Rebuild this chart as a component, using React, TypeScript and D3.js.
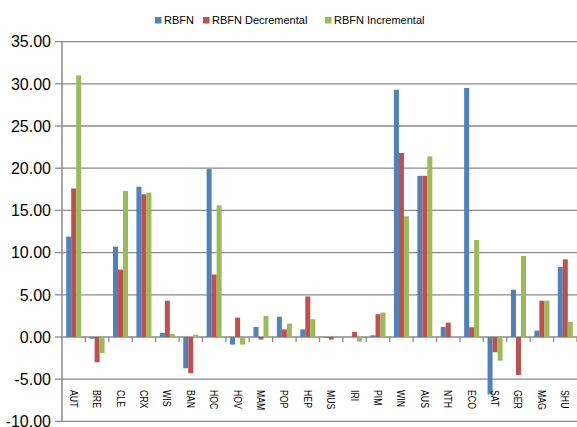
import React from "react";
import * as d3 from "d3";

const categories = ["AUT","BRE","CLE","CRX","WIS","BAN","HOC","HOV","MAM","POP","HEP","MUS","IRI","PIM","WIN","AUS","NTH","ECO","SAT","GER","MAG","SHU"];
const seriesNames = ["RBFN", "RBFN Decremental", "RBFN Incremental"];
const rbfn = [11.9,-0.2,10.7,17.8,0.5,-3.7,19.9,-0.9,1.2,2.4,0.9,-0.1,0.0,0.2,29.3,19.1,1.2,29.5,-6.8,5.6,0.75,8.3];
const rbfnDec = [17.6,-3.0,8.0,16.9,4.3,-4.3,7.4,2.3,-0.3,0.9,4.8,-0.3,0.6,2.7,21.8,19.1,1.7,1.15,-1.8,-4.5,4.3,9.2];
const rbfnInc = [31.0,-1.9,17.3,17.1,0.35,0.27,15.6,-0.9,2.5,1.6,2.1,-0.1,-0.55,2.9,14.3,21.4,-0.1,11.5,-2.8,9.6,4.3,1.8];
const yTicks = [35,30,25,20,15,10,5,0,-5,-10];
const colors = ["#4F81BD", "#C0504D", "#9BBB59"];

export default function App() {
  const W = 577, H = 427;
  const left = 62, right = 577, top = 41.6, bottom = 421.4;
  const y = d3.scaleLinear().domain([-10, 35]).range([bottom, top]);
  const x0 = d3.scaleBand<string>().domain(categories).range([left, right]);
  const bw = x0.bandwidth();
  const x1 = d3.scaleBand<string>().domain(seriesNames).range([4.2, bw - 4.2]);
  const data = [rbfn, rbfnDec, rbfnInc];
  const grid = "#8a8a8a";
  const font = "Liberation Sans, Arial, Helvetica, sans-serif";
  const legendItems = [
    { x: 155, label: seriesNames[0] },
    { x: 203, label: seriesNames[1] },
    { x: 325, label: seriesNames[2] },
  ];
  return (
    <svg width={W} height={H} style={{ position: "absolute", left: 0, top: 0, background: "#fff" }} fontFamily={font}>
      {yTicks.map((t) => (
        <line key={"g" + t} x1={left} x2={right} y1={y(t)} y2={y(t)} stroke={grid} strokeWidth={1.3} />
      ))}
      {yTicks.map((t) => (
        <g key={"t" + t}>
          <line x1={55} x2={left} y1={y(t)} y2={y(t)} stroke={grid} strokeWidth={1.3} />
          <text x={51} y={y(t)} dy="0.36em" textAnchor="end" fontSize={16} fill="#000">{t.toFixed(2)}</text>
        </g>
      ))}
      {data.map((vals, si) =>
        vals.map((v, i) => {
          const xx = (x0(categories[i]) as number) + (x1(seriesNames[si]) as number);
          const y0 = y(0), yv = y(v);
          return (
            <rect key={si + "-" + i} x={xx} width={x1.bandwidth()} y={Math.min(y0, yv)} height={Math.abs(yv - y0)} fill={colors[si]} />
          );
        })
      )}
      {categories.map((c) => (
        <line key={"xt" + c} x1={(x0(c) as number) + bw} x2={(x0(c) as number) + bw} y1={y(0)} y2={y(0) + 5} stroke={grid} strokeWidth={1.3} />
      ))}
      <line x1={left} x2={left} y1={top} y2={bottom} stroke={grid} strokeWidth={1.5} />
      {categories.map((c) => {
        const cx = (x0(c) as number) + bw / 2;
        return (
          <text key={"xl" + c} transform={`translate(${cx - 4},390) rotate(90) scale(0.76,1)`} fontSize={11.5} fill="#000">{c}</text>
        );
      })}
      {legendItems.map((it, i) => (
        <g key={"lg" + i}>
          <rect x={it.x} y={17} width={6.5} height={6.5} fill={colors[i]} />
          <text x={it.x + 9} y={24} fontSize={11} fill="#000">{it.label}</text>
        </g>
      ))}
    </svg>
  );
}
